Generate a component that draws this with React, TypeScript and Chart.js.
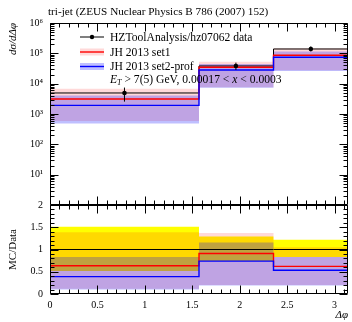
import React, { useEffect, useRef } from 'react';
import { Chart, registerables } from 'chart.js';

Chart.register(...registerables);

const TITLE = 'tri-jet (ZEUS Nuclear Physics B 786 (2007) 152)';
const LEGEND_LABELS = ['HZToolAnalysis/hz07062 data', 'JH 2013 set1', 'JH 2013 set2-prof'];
const Y_TITLE = 'dσ/dΔφ';
const RATIO_TITLE = 'MC/Data';
const X_TITLE = 'Δφ';

const binEdges = [0, Math.PI / 2, (3 * Math.PI) / 4, Math.PI];
const binCenters = [0.785, 1.96, 2.75];

const dataValues = [4930, 38300, 139000];
const dataErrLow = [2560, 28300, 115400];
const dataErrHigh = [7440, 49400, 169600];

const set1Values = [3130, 34900, 86200];
const set1Low = [590, 7660, 27800];
const set1High = [6850, 52500, 145900];

const set2Values = [1920, 28300, 74400];
const set2Low = [490, 7280, 26400];
const set2High = [4090, 44400, 115400];

const xTicks = [0, 0.5, 1, 1.5, 2, 2.5, 3];
const xTickLabels = ['0', '0.5', '1', '1.5', '2', '2.5', '3'];
const logTicks = [1, 10, 100, 1e3, 1e4, 1e5, 1e6];
const logTickLabels = ['', '10¹', '10²', '10³', '10⁴', '10⁵', '10⁶'];
const ratioTicks = [0, 0.5, 1, 1.5, 2];
const ratioTickLabels = ['0', '0.5', '1', '1.5', '2'];

const FONT = "'Liberation Serif', 'DejaVu Serif', serif";

// first point of each bin, plus the last edge repeating the last bin's value
const stepPoints = (vals: number[]) =>
  binEdges.map((e, i) => ({ x: e, y: vals[Math.max(0, i - 1)] }));
const ratio = (vals: number[]) => vals.map((v, i) => v / dataValues[i]);

const noLine = 'rgba(0,0,0,0)';
const STEP = 'after';

function band(lo: number[], hi: number[], color: string, axis: string, order: number) {
  return [
    { data: stepPoints(lo), yAxisID: axis, order, stepped: STEP, borderColor: noLine, borderWidth: 1, pointRadius: 0, fill: false },
    { data: stepPoints(hi), yAxisID: axis, order, stepped: STEP, borderColor: noLine, borderWidth: 1, pointRadius: 0, fill: '-1', backgroundColor: color },
  ];
}

function stepLine(vals: number[], color: string, axis: string, order: number, width: number) {
  return { data: stepPoints(vals), yAxisID: axis, order, stepped: STEP, borderColor: color, borderWidth: width, pointRadius: 0, fill: false };
}

const RED_BAND = 'rgba(255,0,0,0.15)';
const BLUE_BAND = 'rgba(0,0,255,0.25)';
const YELLOW = '#ffff00';

const datasets: any[] = [
  ...band(set1Low, set1High, RED_BAND, 'y', 9),
  ...band(set2Low, set2High, BLUE_BAND, 'y', 8),
  stepLine(dataValues, '#000', 'y', 4, 1),
  stepLine(set1Values, '#ff0000', 'y', 3, 1.4),
  stepLine(set2Values, '#0000ff', 'y', 2, 1.4),
  {
    data: binCenters.flatMap((c, i) => [{ x: c, y: dataErrLow[i] }, { x: c, y: dataErrHigh[i] }, { x: c, y: null }]),
    yAxisID: 'y', order: 1, borderColor: '#000', borderWidth: 1, pointRadius: 0, spanGaps: false, fill: false,
  },
  {
    data: binCenters.map((c, i) => ({ x: c, y: dataValues[i] })),
    yAxisID: 'y', order: 0, showLine: false, pointRadius: 2.3, pointBackgroundColor: '#000', pointBorderWidth: 0, fill: false,
  },
  ...band(ratio(dataErrLow), ratio(dataErrHigh), YELLOW, 'yr', 10),
  ...band(ratio(set1Low), ratio(set1High), RED_BAND, 'yr', 9),
  ...band(ratio(set2Low), ratio(set2High), BLUE_BAND, 'yr', 8),
  stepLine(ratio(dataValues), '#000', 'yr', 4, 1),
  stepLine(ratio(set1Values), '#ff0000', 'yr', 3, 1.4),
  stepLine(ratio(set2Values), '#0000ff', 'yr', 2, 1.4),
];

const framePlugin = {
  id: 'rivetFrame',
  afterDraw(chart: any) {
    const { ctx, chartArea } = chart;
    const xs = chart.scales.x;
    const L = Math.round(chartArea.left) + 0.5;
    const R = Math.round(chartArea.right) - 0.5;
    ctx.save();
    ctx.strokeStyle = '#000';
    ctx.lineWidth = 1;
    const xMinor: number[] = [];
    for (let k = 0; k <= 31; k++) xMinor.push(k / 10);
    const logMinor: number[] = [];
    for (let d = 0; d < 6; d++) for (let m = 1; m <= 9; m++) logMinor.push(m * Math.pow(10, d));
    logMinor.push(1e6);
    const rMinor: number[] = [];
    for (let k = 0; k <= 20; k++) rMinor.push(k / 10);
    const panels = [
      { s: chart.scales.y, minor: logMinor, isMajor: (v: number) => Math.abs(Math.log10(v) - Math.round(Math.log10(v))) < 1e-6 },
      { s: chart.scales.yr, minor: rMinor, isMajor: (v: number) => Math.abs(v * 2 - Math.round(v * 2)) < 1e-6 },
    ];
    ctx.beginPath();
    for (const p of panels) {
      const T = Math.round(p.s.top) + 0.5;
      const B = Math.round(p.s.bottom) - 0.5;
      ctx.rect(L, T, R - L, B - T);
      for (const v of xMinor) {
        const px = Math.round(xs.getPixelForValue(v)) + 0.5;
        if (px > R) continue;
        const len = Math.abs(v * 2 - Math.round(v * 2)) < 1e-6 ? 8 : 4;
        ctx.moveTo(px, B); ctx.lineTo(px, B - len);
        ctx.moveTo(px, T); ctx.lineTo(px, T + len);
      }
      for (const v of p.minor) {
        const py = Math.round(p.s.getPixelForValue(v)) + 0.5;
        const len = p.isMajor(v) ? 8 : 4;
        ctx.moveTo(L, py); ctx.lineTo(L + len, py);
        ctx.moveTo(R, py); ctx.lineTo(R - len, py);
      }
    }
    ctx.stroke();

    ctx.fillStyle = '#000';
    ctx.font = `11.2px ${FONT}`;
    ctx.textBaseline = 'middle';
    ctx.textAlign = 'left';
    ctx.fillText(TITLE, 48, 12);

    const lx0 = 80, lx1 = 104, tx = 110;
    const rows = [37, 52, 66.5];
    ctx.beginPath();
    ctx.moveTo(lx0, rows[0]); ctx.lineTo(lx1, rows[0]);
    ctx.lineWidth = 1; ctx.strokeStyle = '#000'; ctx.stroke();
    ctx.beginPath(); ctx.arc((lx0 + lx1) / 2, rows[0], 2.2, 0, Math.PI * 2); ctx.fill();
    const legendStyles = [null, { band: RED_BAND, line: '#ff0000' }, { band: BLUE_BAND, line: '#0000ff' }];
    for (let i = 1; i < 3; i++) {
      const st = legendStyles[i]!;
      ctx.fillStyle = st.band;
      ctx.fillRect(lx0, rows[i] - 3.5, lx1 - lx0, 7);
      ctx.beginPath(); ctx.moveTo(lx0, rows[i]); ctx.lineTo(lx1, rows[i]);
      ctx.strokeStyle = st.line; ctx.lineWidth = 1.4; ctx.stroke();
    }
    ctx.fillStyle = '#000';
    ctx.font = `11.6px ${FONT}`;
    LEGEND_LABELS.forEach((t, i) => ctx.fillText(t, tx, rows[i] + 0.5));

    let x = tx;
    const y4 = 80;
    const seg = (t: string, style: string, size: number, dy = 0) => {
      ctx.font = `${style}${size}px ${FONT}`;
      ctx.fillText(t, x, y4 + dy);
      x += ctx.measureText(t).width;
    };
    seg('E', 'italic ', 11.6);
    seg('T', 'italic ', 8, 2.5);
    seg(' > 7(5) GeV, 0.00017 < ', '', 11.6);
    seg('x', 'italic ', 11.6);
    seg(' < 0.0003', '', 11.6);
    ctx.restore();
  },
};

export default function App() {
  const ref = useRef<HTMLCanvasElement>(null);
  useEffect(() => {
    document.body.style.margin = '0';
    const canvas = ref.current!;
    const tickFont = { family: FONT, size: 10 };
    const chart = new Chart(canvas, {
      type: 'line',
      data: { datasets },
      options: {
        animation: false,
        responsive: false,
        devicePixelRatio: 1,
        layout: { padding: { top: 23, right: 0, left: 0, bottom: 0 } },
        plugins: { legend: { display: false }, tooltip: { enabled: false }, title: { display: false } },
        elements: { line: { tension: 0 } },
        scales: {
          x: {
            type: 'linear', position: 'bottom', min: 0, max: Math.PI,
            grid: { display: false, drawTicks: false }, border: { display: false },
            afterBuildTicks: (s: any) => { s.ticks = xTicks.map((v) => ({ value: v })); },
            ticks: { padding: 5, font: tickFont, color: '#000', maxRotation: 0, autoSkip: false,
              callback: (_v: any, i: number) => xTickLabels[i] },
            title: { display: true, text: X_TITLE, align: 'end', color: '#000',
              font: { family: FONT, size: 11, style: 'italic' }, padding: { top: 0, bottom: 0 } },
            afterFit: (s: any) => { s.height = 28; },
          },
          yr: {
            type: 'linear', position: 'left', stack: 'panels', stackWeight: 89, min: 0, max: 2,
            grid: { display: false, drawTicks: false }, border: { display: false },
            afterBuildTicks: (s: any) => { s.ticks = ratioTicks.map((v) => ({ value: v })); },
            ticks: { padding: 7, font: tickFont, color: '#000', autoSkip: false,
              callback: (_v: any, i: number) => ratioTickLabels[i] },
            title: { display: true, text: RATIO_TITLE, color: '#000',
              font: { family: FONT, size: 11 }, padding: { top: 7, bottom: 0 } },
            afterFit: (s: any) => { s.width = 50; },
          },
          y: {
            type: 'logarithmic', position: 'left', stack: 'panels', stackWeight: 182, min: 1, max: 1e6,
            grid: { display: false, drawTicks: false }, border: { display: false },
            afterBuildTicks: (s: any) => { s.ticks = logTicks.map((v) => ({ value: v })); },
            ticks: { padding: 7, font: tickFont, color: '#000', autoSkip: false,
              callback: (_v: any, i: number) => logTickLabels[i] },
            title: { display: true, text: Y_TITLE, align: 'end', color: '#000',
              font: { family: FONT, size: 11, style: 'italic' }, padding: { top: 7, bottom: 0 } },
            afterFit: (s: any) => { s.width = 50; },
          },
        } as any,
      },
      plugins: [framePlugin],
    } as any);
    return () => chart.destroy();
  }, []);
  return <canvas ref={ref} width={352} height={322} style={{ display: 'block', width: 352, height: 322 }} />;
}
